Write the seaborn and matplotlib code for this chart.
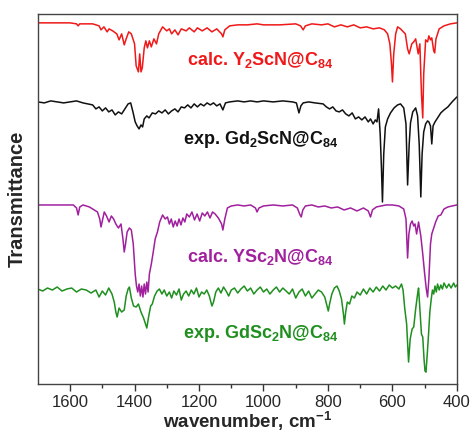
#!/usr/bin/env python3
"""
IR spectra of M3N@C84 clusters, calc. vs exp. (stacked, offset)
"""

import numpy as np
import pandas as pd
import seaborn as sns
import matplotlib
matplotlib.use("Agg")
import matplotlib.pyplot as plt

# --- data (wavenumber in cm-1, offset transmittance in arb. units) ---
red_wn = [1700, 1600, 1580, 1575, 1570, 1530, 1510, 1504, 1495, 1485, 1479, 1468, 1455, 1448,
          1440, 1432, 1426, 1418, 1410, 1400, 1395, 1388, 1384, 1380, 1376, 1370, 1365, 1360,
          1354, 1348, 1340, 1332, 1325, 1313, 1300, 1292, 1285, 1275, 1265, 1255, 1240, 1230,
          1215, 1205, 1190, 1175, 1160, 1145, 1130, 1126, 1120, 1105, 1080, 1050, 1020, 1000,
          950, 900, 885, 877, 870, 850, 820, 800, 780, 760, 740, 720, 700, 680, 660, 640, 625,
          615, 608, 603, 600, 596, 590, 584, 575, 560, 553, 548, 540, 534, 528, 520, 515, 510,
          506, 503, 497, 491, 487, 482, 478, 472, 469, 465, 455, 440, 420, 400]
red_val = [361, 361, 360, 358, 360, 360, 358, 354, 357, 352, 355, 353, 350, 344,
           350, 339, 345, 352, 350, 340, 318, 312, 330, 312, 316, 336, 343, 336,
           343, 337, 345, 340, 350, 357, 353, 355, 350, 354, 349, 355, 353, 356,
           352, 356, 353, 356, 352, 355, 350, 347, 354, 358, 359, 359, 360, 359,
           359, 360, 358, 354, 358, 360, 359, 360, 357, 359, 357, 359, 356, 357, 355, 356, 354,
           350, 340, 320, 302, 330, 350, 357, 355, 350, 335, 330, 340, 342, 345, 330, 340, 290,
           266, 310, 344, 342, 348, 344, 346, 333, 331, 345, 355, 358, 360, 361]

black_wn = [1700, 1680, 1660, 1640, 1620, 1600, 1580, 1560, 1530, 1520, 1510, 1500, 1490, 1480,
            1470, 1460, 1450, 1440, 1430, 1420, 1412, 1405, 1398, 1392, 1386, 1380, 1375, 1370,
            1362, 1355, 1345, 1335, 1325, 1315, 1305, 1295, 1285, 1275, 1265, 1255, 1245, 1235,
            1225, 1215, 1205, 1195, 1185, 1175, 1165, 1155, 1145, 1135, 1126, 1118, 1105, 1080,
            1060, 1040, 1020, 1000, 970, 940, 910, 898, 890, 884, 877, 860, 840, 815, 805, 795,
            785, 775, 765, 755, 745, 735, 725, 715, 705, 695, 685, 675, 668, 660, 653, 648, 643,
            638, 634, 631, 627, 622, 615, 606, 595, 584, 575, 565, 558, 553, 548, 544, 537, 528,
            522, 517, 512, 508, 503, 497, 491, 487, 482, 478, 474, 468, 460, 450, 440, 428, 415,
            403, 400]
black_val = [282, 281, 283, 282, 281, 282, 283, 281, 279, 275, 277, 273, 276, 272,
             274, 269, 272, 270, 275, 280, 281, 272, 262, 258, 255, 259, 257, 265,
             268, 266, 271, 270, 273, 271, 274, 270, 273, 275, 272, 277, 276, 279,
             276, 280, 277, 280, 278, 281, 279, 281, 278, 280, 274, 281, 282, 283,
             282, 283, 282, 283, 282, 283, 282, 281, 271, 278, 281, 282, 281, 280, 277, 275,
             277, 273, 272, 274, 270, 268, 271, 265, 267, 264, 267, 262, 265, 260, 264, 262, 275,
             250, 215, 182, 230, 257, 265, 271, 276, 279, 280, 276, 260, 199, 240, 261, 272, 276,
             268, 240, 187, 230, 252, 260, 263, 262, 258, 240, 258, 262, 266, 271, 274, 277, 282,
             286, 287]

purple_wn = [1700, 1620, 1590, 1580, 1575, 1570, 1560, 1540, 1525, 1515, 1508, 1504, 1498, 1494,
             1487, 1479, 1472, 1465, 1458, 1450, 1442, 1436, 1432, 1428, 1423, 1416, 1410, 1404,
             1398, 1394, 1390, 1386, 1382, 1378, 1374, 1370, 1366, 1362, 1358, 1354, 1348, 1342,
             1336, 1329, 1322, 1313, 1305, 1298, 1292, 1286, 1280, 1274, 1268, 1262, 1256, 1250,
             1244, 1238, 1230, 1222, 1214, 1206, 1198, 1190, 1182, 1174, 1166, 1158, 1150, 1140,
             1130, 1126, 1120, 1112, 1100, 1080, 1060, 1040, 1025, 1020, 1014, 1000, 970, 940, 910,
             895, 888, 883, 878, 870, 850, 830, 810, 790, 770, 750, 730, 710, 690, 675, 668, 662,
             650, 635, 620, 600, 580, 565, 558, 553, 549, 544, 539, 534, 530, 525, 519, 512, 506,
             500, 495, 491, 487, 482, 478, 472, 466, 458, 450, 440, 428, 415, 400]
purple_val = [179, 179, 179, 176, 169, 177, 179, 177, 174, 172, 165, 157, 166, 172,
              168, 162, 168, 165, 160, 156, 160, 145, 132, 140, 152, 156, 154, 140,
              110, 98, 92, 100, 88, 98, 87, 100, 90, 102, 92, 110, 120, 132,
              145, 152, 162, 169, 165, 167, 160, 165, 157, 163, 158, 165, 159, 166,
              162, 170, 167, 172, 164, 170, 163, 171, 168, 172, 166, 172, 170, 166,
              160, 154, 165, 176, 178, 179, 178, 179, 176, 172, 176, 178, 179, 178, 179,
              176, 170, 167, 174, 178, 179, 177, 178, 176, 177, 174, 176, 173, 176, 173, 167, 174,
              177, 178, 179, 179, 178, 175, 165, 126, 150, 160, 163, 158, 160, 150, 162, 148, 130,
              110, 95, 87, 105, 140, 150, 156, 162, 168, 169, 175, 177, 178, 179]

green_wn = [1700, 1685, 1670, 1655, 1640, 1625, 1610, 1595, 1580, 1565, 1550, 1535, 1520, 1510,
            1500, 1490, 1480, 1470, 1463, 1458, 1454, 1448, 1440, 1432, 1426, 1420, 1416, 1410,
            1403, 1395, 1388, 1380, 1372, 1366, 1362, 1356, 1350, 1345, 1338, 1330, 1323, 1315,
            1308, 1300, 1292, 1285, 1278, 1270, 1262, 1255, 1248, 1240, 1232, 1224, 1216, 1208,
            1200, 1192, 1184, 1176, 1168, 1160, 1155, 1148, 1140, 1132, 1124, 1116, 1108, 1100,
            1090, 1080, 1070, 1060, 1050, 1040, 1030, 1020, 1010, 1000, 990, 980, 970, 960, 950,
            940, 930, 920, 910, 900, 890, 880, 870, 860, 850, 840, 830, 820, 810, 803, 799, 795,
            788, 780, 772, 765, 758, 752, 749, 745, 740, 733, 726, 718, 710, 700, 690, 680, 670,
            660, 650, 640, 630, 620, 610, 600, 590, 580, 572, 567, 562, 556, 550, 545, 539, 534,
            528, 522, 519, 515, 510, 506, 502, 499, 496, 492, 488, 484, 480, 476, 472, 468, 464,
            460, 455, 450, 445, 440, 432, 425, 418, 410, 405, 400]
green_val = [95, 93, 96, 94, 97, 93, 95, 96, 92, 95, 94, 91, 94, 87,
             93, 89, 96, 90, 82, 72, 67, 76, 72, 74, 88, 95, 97, 86,
             78, 77, 80, 72, 66, 60, 56, 68, 78, 80, 88, 93, 95, 90,
             94, 88, 92, 86, 93, 89, 95, 84, 90, 93, 88, 94, 90, 96,
             87, 92, 90, 94, 88, 78, 82, 92, 96, 91, 97, 93, 88, 94,
             96, 91, 95, 98, 93, 96, 90, 94, 97, 92, 95, 90, 94, 97, 92,
             96, 93, 90, 95, 86, 92, 95, 88, 93, 86, 90, 94, 92, 87, 78, 73, 80,
             90, 96, 98, 93, 85, 70, 60, 72, 82, 80, 88, 86, 92, 89, 95, 90, 96,
             92, 97, 93, 98, 94, 99, 96, 98, 95, 100, 94, 76, 60, 22, 45, 55, 57,
             75, 90, 96, 75, 50, 47, 25, 13, 12, 30, 50, 72, 84, 94, 90, 98, 92,
             100, 94, 99, 95, 101, 96, 100, 96, 101, 97, 99]

labels = [r"calc. Y$_{2}$ScN@C$_{84}$", r"exp. Gd$_{2}$ScN@C$_{84}$",
          r"calc. YSc$_{2}$N@C$_{84}$", r"exp. GdSc$_{2}$N@C$_{84}$"]
x_ticks = [1600, 1400, 1200, 1000, 800, 600, 400]


def main():
    sns.set_theme(style="ticks")
    plt.rcParams.update({
        "font.family": ["Liberation Sans", "DejaVu Sans"],
        "mathtext.fontset": "custom",
        "mathtext.rm": "Liberation Sans:bold",
        "mathtext.bf": "Liberation Sans:bold",
        "mathtext.default": "bf",
        "axes.unicode_minus": True,
    })

    fig = plt.figure(figsize=(4.73, 4.33), dpi=100)
    ax = fig.add_axes([0.080, 0.113, 0.886, 0.855])

    colors = ["#f01818", "#111111", "#a0209e", "#1f8f1f"]
    series = [(red_wn, red_val), (black_wn, black_val),
              (purple_wn, purple_val), (green_wn, green_val)]
    text_y = [324, 244, 127, 51]

    for (wn, val), c, lab, ty in zip(series, colors, labels, text_y):
        df = pd.DataFrame({"wn": wn, "T": val})
        sns.lineplot(data=df, x="wn", y="T", ax=ax, color=c, lw=1.1,
                     estimator=None, sort=False)
        ax.text(1010, ty, lab, color=c, fontsize=13, fontweight="bold",
                ha="center", va="center")

    ax.set_xlim(1700, 400)
    ax.set_ylim(0, 370)
    ax.set_xticks(x_ticks)
    ax.set_xticks(np.arange(1500, 400, -200), minor=True)
    ax.set_yticks([])
    ax.tick_params(axis="x", which="major", direction="out", length=5, width=1,
                   labelsize=12, pad=3, color="#333333")
    ax.tick_params(axis="x", which="minor", direction="out", length=3, width=1,
                   color="#333333")

    for spine in ax.spines.values():
        spine.set_visible(True)
        spine.set_linewidth(1.0)
        spine.set_color("#444444")

    ax.set_xlabel(r"wavenumber, cm$^{-1}$", fontsize=13.5, fontweight="bold", labelpad=0)
    ax.set_ylabel("Transmittance", fontsize=14.5, fontweight="bold", labelpad=8)

    fig.savefig("out.png", dpi=100, facecolor="white")


if __name__ == "__main__":
    main()
